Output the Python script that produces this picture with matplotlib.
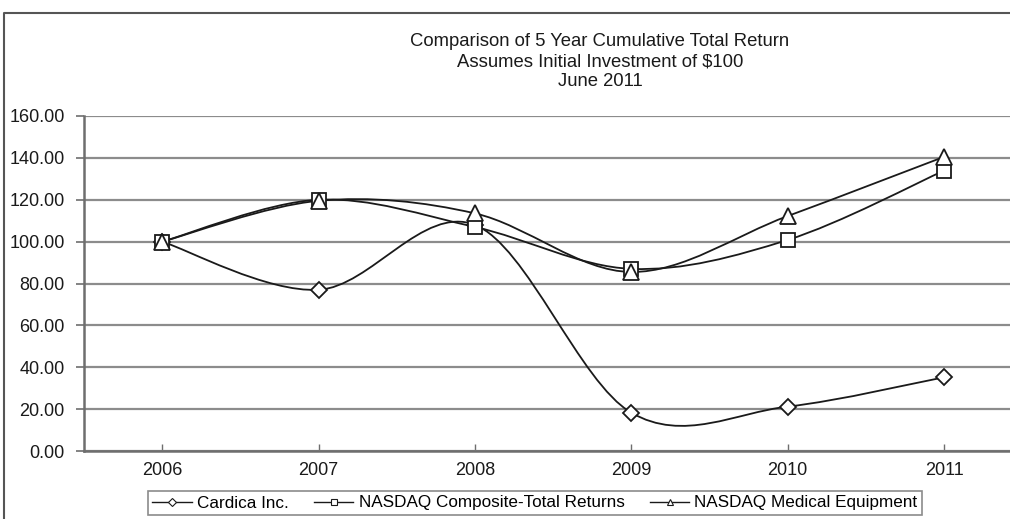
import matplotlib
matplotlib.use("Agg")
import matplotlib.pyplot as plt
from matplotlib.path import Path
from matplotlib.patches import PathPatch
from matplotlib.lines import Line2D
import numpy as np

plt.rcParams['font.family'] = ['Liberation Sans', 'DejaVu Sans']

years = ["2006", "2007", "2008", "2009", "2010", "2011"]
cardica = [100.0, 77.0, 108.0, 18.3, 21.2, 35.2]
nasdaq_composite = [100.0, 120.0, 107.0, 87.0, 100.8, 133.9]
nasdaq_medical = [100.0, 119.5, 113.5, 85.5, 112.2, 140.5]

series_names = ["Cardica Inc.", "NASDAQ Composite-Total Returns", "NASDAQ Medical Equipment"]
series_values = [cardica, nasdaq_composite, nasdaq_medical]
series_markers = ["D", "s", "^"]
series_msize = [8.5, 10, 11]

title_lines = ["Comparison of 5 Year Cumulative Total Return",
               "Assumes Initial Investment of $100",
               "June 2011"]

LINE = "#1a1a1a"
GRID = "#8c8c8c"


def smooth_path(xs, ys):
    """Cubic Bezier path through the points (Catmull-Rom style smoothing)."""
    pts = np.column_stack([xs, ys]).astype(float)
    n = len(pts)
    verts = [pts[0]]
    codes = [Path.MOVETO]
    for i in range(n - 1):
        p0 = pts[i - 1] if i > 0 else pts[i]
        p1 = pts[i]
        p2 = pts[i + 1]
        p3 = pts[i + 2] if i + 2 < n else pts[i + 1]
        c1 = p1 + (p2 - p0) / 6.0
        c2 = p2 - (p3 - p1) / 6.0
        verts += [c1, c2, p2]
        codes += [Path.CURVE4] * 3
    return Path(verts, codes)


fig = plt.figure(figsize=(10.10, 5.19), dpi=100)
ax = fig.add_axes([84 / 1010, (519 - 451) / 519, 1 - 84 / 1010, (451 - 116) / 519])

x = np.arange(len(years))
for vals, name, mk, ms in zip(series_values, series_names, series_markers, series_msize):
    ax.add_patch(PathPatch(smooth_path(x, vals), facecolor="none",
                           edgecolor=LINE, lw=1.3, zorder=3))
    ax.plot(x, vals, linestyle="none", marker=mk, markersize=ms,
            markerfacecolor="white", markeredgecolor=LINE, markeredgewidth=1.3,
            zorder=4)

ax.set_xlim(-0.5, (1010 - 162) / 156.4)
ax.set_ylim(0, 160)
ax.set_yticks(np.arange(0, 161, 20))
ax.set_yticklabels([f"{v:.2f}" for v in np.arange(0, 161, 20)])
ax.set_xticks(x)
ax.set_xticklabels(years)

ax.yaxis.grid(True, color=GRID, lw=1.6)
ax.set_axisbelow(True)
for s in ["top", "right"]:
    ax.spines[s].set_visible(False)
for s in ["left", "bottom"]:
    ax.spines[s].set_color("#6e6e6e")
    ax.spines[s].set_linewidth(1.8)

ax.tick_params(axis="y", direction="out", length=6, width=1.2, color="#6e6e6e",
               labelsize=13, pad=8, labelcolor="#1a1a1a")
ax.tick_params(axis="x", direction="in", length=5, width=1.0, color="#6e6e6e",
               labelsize=13, pad=8, labelcolor="#1a1a1a")

for i, line in enumerate(title_lines):
    fig.text(600 / 1010, 1 - (41 + 20.5 * i) / 519, line, ha="center", va="center",
             fontsize=13.3, color="#1a1a1a")

# legend
handles = [Line2D([0], [0], color=LINE, lw=1.0, marker=mk, markersize=4.5,
                  markerfacecolor="white", markeredgecolor=LINE, markeredgewidth=0.8)
           for mk in series_markers]
leg = fig.legend(handles, series_names, loc="center",
                 bbox_to_anchor=(535 / 1010, 1 - 503 / 519), ncol=3,
                 frameon=True, fancybox=False, fontsize=12.3, handlelength=2.3,
                 handletextpad=0.3, columnspacing=1.5, borderpad=0.25,
                 borderaxespad=0)
leg.get_frame().set_edgecolor("#6e6e6e")
leg.get_frame().set_linewidth(1.2)

# chart border (left and top edges)
fig.add_artist(Line2D([4 / 1010, 4 / 1010, 1.05], [-0.05, 1 - 13 / 519, 1 - 13 / 519],
                      transform=fig.transFigure, color="#555555", lw=1.5))

fig.savefig("out.png", dpi=100)
